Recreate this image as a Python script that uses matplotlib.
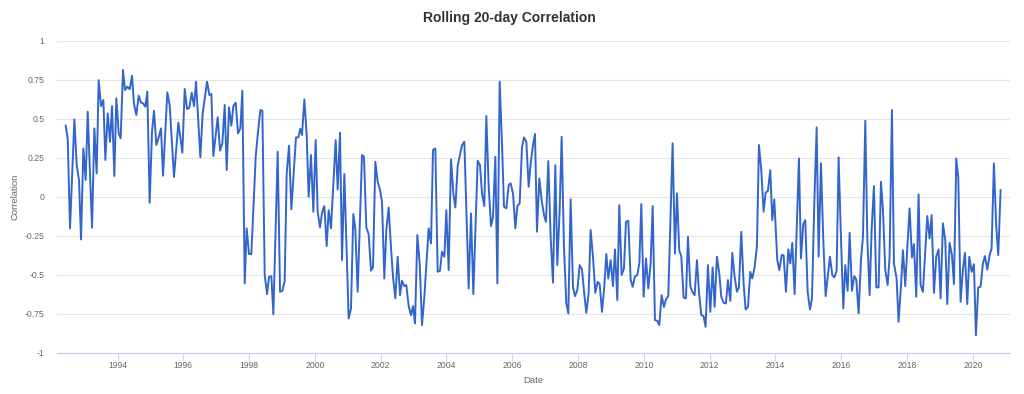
import matplotlib
matplotlib.use("Agg")
import matplotlib.pyplot as plt

# decimal-year dates and correlation values
dates = [
    1992.424, 1992.485, 1992.556, 1992.688, 1992.759, 1992.829, 1992.890, 1992.961, 1993.032, 1993.093,
    1993.225, 1993.296, 1993.366, 1993.427, 1993.498, 1993.569, 1993.630, 1993.701, 1993.772, 1993.833,
    1993.903, 1993.964, 1994.035, 1994.096, 1994.167, 1994.228, 1994.299, 1994.370, 1994.440, 1994.501,
    1994.572, 1994.643, 1994.714, 1994.775, 1994.846, 1994.906, 1994.977, 1995.048, 1995.109, 1995.180,
    1995.251, 1995.322, 1995.383, 1995.514, 1995.585, 1995.717,
    1995.849, 1995.971, 1996.042, 1996.113, 1996.184, 1996.255, 1996.325, 1996.386, 1996.518, 1996.589,
    1996.721, 1996.792, 1996.852, 1996.913, 1997.045, 1997.116, 1997.187, 1997.258, 1997.319, 1997.389,
    1997.460, 1997.521, 1997.592, 1997.663, 1997.734, 1997.795, 1997.866, 1997.926, 1997.997, 1998.068,
    1998.200, 1998.271, 1998.342, 1998.403, 1998.474, 1998.545, 1998.605, 1998.676, 1998.737, 1998.869,
    1998.940, 1999.011, 1999.081, 1999.142, 1999.213, 1999.284,
    1999.425, 1999.496, 1999.557, 1999.608, 1999.679, 1999.750, 1999.810, 1999.881, 1999.952, 2000.023,
    2000.084, 2000.155, 2000.216, 2000.287, 2000.358, 2000.418, 2000.489, 2000.631, 2000.692, 2000.763,
    2000.824, 2000.895, 2001.026, 2001.097, 2001.168, 2001.229, 2001.300, 2001.432, 2001.492, 2001.563,
    2001.634, 2001.705, 2001.766, 2001.837, 2001.908, 2001.979, 2002.040, 2002.110, 2002.171, 2002.242,
    2002.313, 2002.374, 2002.445, 2002.516, 2002.587, 2002.647, 2002.718, 2002.779, 2002.850, 2002.921,
    2002.982,
    2003.043, 2003.114, 2003.185, 2003.256, 2003.327, 2003.398, 2003.458, 2003.529, 2003.590, 2003.661,
    2003.732, 2003.803, 2003.864, 2003.935, 2003.995, 2004.066, 2004.137, 2004.208, 2004.269, 2004.340,
    2004.411, 2004.472, 2004.543, 2004.674, 2004.745, 2004.816, 2004.948, 2005.019, 2005.080, 2005.150,
    2005.211, 2005.282, 2005.353, 2005.414, 2005.485, 2005.546, 2005.617, 2005.687, 2005.748, 2005.819,
    2005.890, 2005.951, 2006.022, 2006.093, 2006.154, 2006.224, 2006.295, 2006.356, 2006.427, 2006.498,
    2006.559, 2006.630,
    2006.690, 2006.751, 2006.822, 2006.893, 2006.964, 2007.024, 2007.095, 2007.166, 2007.237, 2007.308,
    2007.369, 2007.440, 2007.501, 2007.571, 2007.642, 2007.703, 2007.774, 2007.845, 2007.906, 2007.977,
    2008.048, 2008.119, 2008.179, 2008.250, 2008.321, 2008.382, 2008.453, 2008.524, 2008.595, 2008.656,
    2008.727, 2008.797, 2008.858, 2008.919, 2008.990, 2009.061, 2009.122, 2009.193, 2009.253, 2009.324,
    2009.395, 2009.456, 2009.527, 2009.598, 2009.659, 2009.730, 2009.801, 2009.862, 2009.922, 2009.993,
    2010.064, 2010.135, 2010.206, 2010.267,
    2010.337, 2010.408, 2010.469, 2010.540, 2010.611, 2010.671, 2010.742, 2010.803, 2010.874, 2010.945,
    2011.006, 2011.077, 2011.137, 2011.208, 2011.279, 2011.340, 2011.411, 2011.472, 2011.543, 2011.614,
    2011.674, 2011.745, 2011.816, 2011.877, 2011.948, 2012.019, 2012.090, 2012.151, 2012.221, 2012.292,
    2012.353, 2012.424, 2012.495, 2012.556, 2012.627, 2012.688, 2012.759, 2012.829, 2012.890, 2012.961,
    2013.032, 2013.093, 2013.164, 2013.235, 2013.295, 2013.366, 2013.437, 2013.498, 2013.569, 2013.640,
    2013.701, 2013.772, 2013.843, 2013.903, 2013.964,
    2014.056, 2014.117, 2014.188, 2014.248, 2014.319, 2014.390, 2014.451, 2014.512, 2014.583, 2014.714,
    2014.775, 2014.846, 2014.907, 2014.978, 2015.049, 2015.110, 2015.181, 2015.252, 2015.312, 2015.383,
    2015.454, 2015.525, 2015.596, 2015.657, 2015.728, 2015.788, 2015.859, 2015.920, 2015.991, 2016.062,
    2016.123, 2016.194, 2016.255, 2016.325, 2016.396, 2016.457, 2016.528, 2016.599, 2016.660, 2016.731,
    2016.792, 2016.863, 2016.923, 2016.994, 2017.065, 2017.136, 2017.207, 2017.268, 2017.339, 2017.410,
    2017.470, 2017.541, 2017.602,
    2017.683, 2017.743, 2017.814, 2017.875, 2017.946, 2018.007, 2018.078, 2018.149, 2018.209, 2018.280,
    2018.351, 2018.412, 2018.483, 2018.615, 2018.686, 2018.747, 2018.818, 2018.888, 2018.959, 2019.020,
    2019.091, 2019.162, 2019.223, 2019.294, 2019.365, 2019.426, 2019.496, 2019.557, 2019.628, 2019.699,
    2019.760, 2019.831, 2019.892, 2019.963, 2020.033, 2020.094, 2020.165, 2020.236, 2020.307, 2020.368,
    2020.439, 2020.510, 2020.570, 2020.641, 2020.712, 2020.773, 2020.844,
]

correlation = [
    0.456, 0.375, -0.203, 0.497, 0.203, 0.107, -0.274, 0.310, 0.107, 0.546,
    -0.199, 0.439, 0.150, 0.749, 0.582, 0.621, 0.236, 0.535, 0.353, 0.582,
    0.133, 0.632, 0.407, 0.375, 0.814, 0.685, 0.707, 0.690, 0.777, 0.595,
    0.525, 0.649, 0.604, 0.600, 0.578, 0.675, -0.039, 0.418, 0.552, 0.332,
    0.381, 0.439, 0.135, 0.670, 0.589, 0.128,
    0.475, 0.283, 0.692, 0.563, 0.572, 0.668, 0.582, 0.739, 0.253, 0.535,
    0.739, 0.653, 0.660, 0.261, 0.510, 0.296, 0.343, 0.589, 0.171, 0.574,
    0.456, 0.582, 0.604, 0.407, 0.439, 0.681, -0.557, -0.203, -0.368, -0.368,
    0.257, 0.418, 0.557, 0.552, -0.503, -0.625, -0.514, -0.510, -0.754, 0.289,
    -0.610, -0.604, -0.540, 0.146, 0.328, -0.081,
    0.381, 0.381, 0.437, 0.396, 0.625, 0.396, 0.000, 0.268, -0.096, 0.364,
    -0.096, -0.197, -0.103, -0.060, -0.317, -0.086, -0.203, 0.364, 0.047, 0.411,
    -0.407, 0.146, -0.782, -0.717, -0.111, -0.210, -0.610, 0.268, 0.257, -0.197,
    -0.240, -0.475, -0.454, 0.225, 0.096, 0.043, -0.032, -0.525, -0.214, -0.069,
    -0.325, -0.514, -0.653, -0.385, -0.632, -0.540, -0.574, -0.567, -0.702, -0.760,
    -0.702,
    -0.814, -0.246, -0.428, -0.824, -0.642, -0.407, -0.203, -0.300, 0.300, 0.310,
    -0.482, -0.475, -0.353, -0.385, -0.086, -0.471, 0.240, 0.021, -0.069, 0.197,
    0.268, 0.332, 0.353, -0.589, -0.107, -0.625, 0.231, 0.203, 0.021, -0.060,
    0.518, 0.069, -0.188, -0.128, 0.257, -0.557, 0.739, 0.343, -0.064, -0.075,
    0.075, 0.086, 0.021, -0.203, -0.060, -0.043, 0.317, 0.381, 0.353, 0.064,
    0.214, 0.332,
    0.403, -0.225, 0.118, -0.021, -0.118, -0.161, 0.229, -0.257, -0.552, 0.203,
    -0.439, -0.086, 0.385, -0.321, -0.685, -0.749, -0.017, -0.578, -0.638, -0.600,
    -0.439, -0.467, -0.604, -0.745, -0.621, -0.214, -0.385, -0.617, -0.546, -0.561,
    -0.739, -0.578, -0.368, -0.525, -0.407, -0.574, -0.338, -0.664, -0.054, -0.503,
    -0.460, -0.161, -0.154, -0.531, -0.578, -0.510, -0.503, -0.428, -0.047, -0.642,
    -0.396, -0.589, -0.428, -0.060,
    -0.792, -0.797, -0.824, -0.632, -0.707, -0.660, -0.638, -0.193, 0.343, -0.364,
    0.021, -0.347, -0.381, -0.647, -0.653, -0.257, -0.574, -0.610, -0.632, -0.407,
    -0.610, -0.760, -0.767, -0.835, -0.439, -0.739, -0.454, -0.707, -0.385, -0.492,
    -0.642, -0.681, -0.685, -0.535, -0.668, -0.360, -0.514, -0.610, -0.582, -0.225,
    -0.557, -0.724, -0.707, -0.482, -0.525, -0.454, -0.317, 0.332, 0.171, -0.096,
    0.026, 0.039, 0.171, -0.150, -0.017,
    -0.407, -0.471, -0.375, -0.375, -0.610, -0.338, -0.428, -0.296, -0.625, 0.246,
    -0.396, -0.176, -0.150, -0.610, -0.724, -0.653, -0.043, 0.445, -0.385, 0.214,
    -0.274, -0.638, -0.503, -0.385, -0.503, -0.518, -0.475, 0.253, -0.257, -0.717,
    -0.439, -0.604, -0.231, -0.604, -0.510, -0.531, -0.749, -0.407, -0.257, 0.488,
    -0.261, -0.632, -0.214, 0.069, -0.582, -0.582, 0.096, -0.086, -0.471, -0.567,
    -0.385, 0.557, -0.428,
    -0.525, -0.803, -0.578, -0.343, -0.574, -0.332, -0.075, -0.390, -0.304, -0.642,
    0.015, -0.567, -0.610, -0.124, -0.268, -0.118, -0.617, -0.385, -0.338, -0.653,
    -0.171, -0.278, -0.689, -0.296, -0.375, -0.561, 0.246, 0.128, -0.675, -0.467,
    -0.360, -0.689, -0.385, -0.482, -0.433, -0.889, -0.582, -0.578, -0.428, -0.381,
    -0.467, -0.375, -0.332, 0.214, -0.193, -0.375, 0.043,
]

x_ticks = [1994, 1996, 1998, 2000, 2002, 2004, 2006, 2008, 2010, 2012, 2014, 2016, 2018, 2020]
y_ticks = [-1, -0.75, -0.5, -0.25, 0, 0.25, 0.5, 0.75, 1]
y_tick_labels = ["-1", "-0.75", "-0.5", "-0.25", "0", "0.25", "0.5", "0.75", "1"]

plt.rcParams['font.family'] = ['Liberation Sans', 'DejaVu Sans']

fig = plt.figure(figsize=(10.24, 3.94), dpi=100)
ax = fig.add_axes([57 / 1024, 1 - 352.5 / 394, (1010 - 57) / 1024, (352.5 - 41) / 394])

ax.plot(dates, correlation, color='#3366cc', linewidth=1.4, solid_joinstyle='round')

ax.set_xlim(1992.16, 2021.13)
ax.set_ylim(-1, 1)

ax.set_xticks(x_ticks)
ax.set_xticklabels([str(t) for t in x_ticks])
ax.set_yticks(y_ticks)
ax.set_yticklabels(y_tick_labels)

ax.grid(axis='y', color='#e6e6e6', linewidth=0.8)
ax.set_axisbelow(True)
for s in ['top', 'right', 'left']:
    ax.spines[s].set_visible(False)
ax.spines['bottom'].set_color('#ccd6eb')
ax.spines['bottom'].set_linewidth(1.0)

ax.tick_params(axis='x', length=5.8, width=0.8, color='#ccd6eb', pad=0.5,
               labelsize=6.2, labelcolor='#666666')
ax.tick_params(axis='y', length=0, pad=9, labelsize=6.2, labelcolor='#666666')

ax.set_xlabel('Date', fontsize=6.8, color='#666666', labelpad=4)
ax.set_ylabel('Correlation', fontsize=6.8, color='#666666', labelpad=4)

fig.text(0.497, 1 - 18 / 394, 'Rolling 20-day Correlation', ha='center', va='center',
         fontsize=10, fontweight='bold', color='#333333')

fig.savefig('out.png', dpi=100)
